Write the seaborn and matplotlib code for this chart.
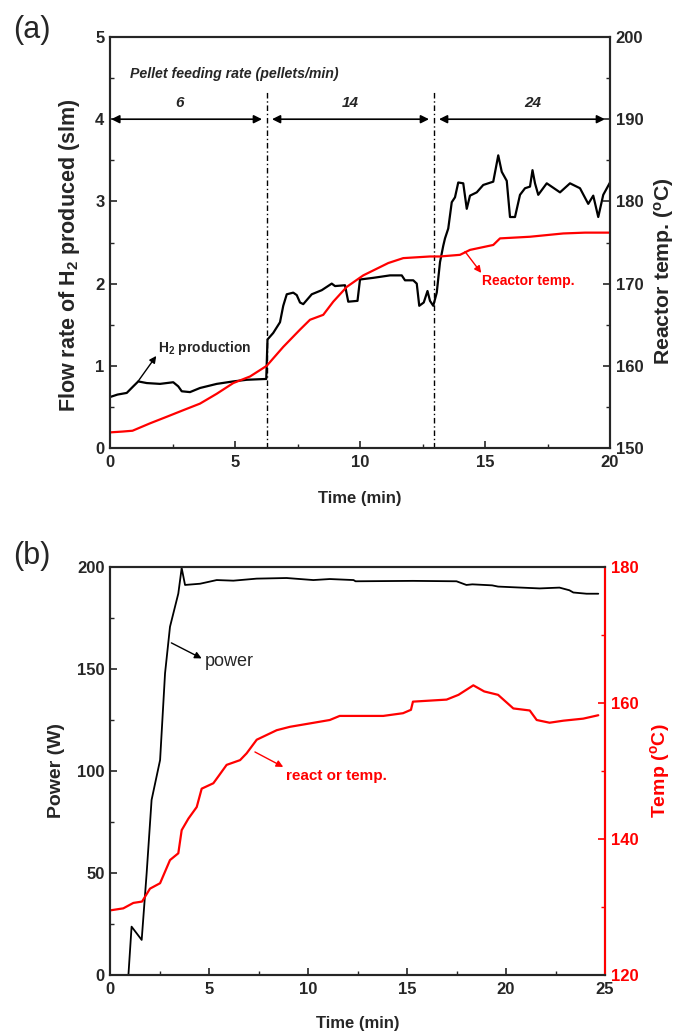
'''
Two-panel figure: H2 production vs pellet feeding rate (a) and
power / reactor temperature over time (b)
'''

import matplotlib
matplotlib.use('Agg')
import matplotlib.pyplot as plt
from matplotlib.ticker import MultipleLocator
import seaborn as sns
import pandas as pd

# ---- panel (a) data ----
t_h2 = [0, 0.3, 0.67, 0.93, 1.13, 1.47, 2.0, 2.53, 2.73, 2.87, 3.2, 3.6, 4.27,
        4.93, 5.47, 6.25, 6.3, 6.53, 6.8, 6.93, 7.07, 7.33, 7.47, 7.6, 7.73,
        8.07, 8.47, 8.87, 9.0, 9.4, 9.53, 9.9, 10.0, 10.53, 11.2, 11.67, 11.8,
        12.13, 12.27, 12.37, 12.55, 12.7, 12.8, 12.93, 13.07, 13.2, 13.33,
        13.4, 13.53, 13.67, 13.8, 13.93, 14.13, 14.27, 14.4, 14.67, 14.93,
        15.33, 15.53, 15.67, 15.87, 16.0, 16.2, 16.4, 16.6, 16.8, 16.9, 17.0,
        17.13, 17.47, 18.0, 18.4, 18.8, 19.13, 19.33, 19.53, 19.73, 20.0]
h2_flow = [0.62, 0.65, 0.67, 0.75, 0.81, 0.79, 0.78, 0.80, 0.75, 0.69, 0.68,
           0.73, 0.78, 0.81, 0.83, 0.84, 1.32, 1.40, 1.53, 1.73, 1.87, 1.89,
           1.86, 1.77, 1.75, 1.87, 1.92, 2.0, 1.97, 1.98, 1.78, 1.79, 2.05,
           2.07, 2.10, 2.10, 2.04, 2.04, 2.0, 1.73, 1.77, 1.91, 1.79, 1.73,
           1.89, 2.26, 2.46, 2.55, 2.67, 2.99, 3.05, 3.23, 3.22, 2.91, 3.07,
           3.11, 3.20, 3.24, 3.56, 3.36, 3.25, 2.81, 2.81, 3.08, 3.16, 3.18,
           3.38, 3.22, 3.08, 3.22, 3.11, 3.22, 3.16, 2.97, 3.07, 2.81, 3.08,
           3.23]

t_temp_a = [0, 0.5, 0.9, 1.6, 2.27, 2.93, 3.6, 4.27, 4.93, 5.6, 6.27, 6.93,
            7.6, 8.0, 8.53, 8.93, 9.47, 10.13, 11.13, 11.73, 12.8, 13.2, 14.0,
            14.4, 15.33, 15.6, 16.8, 18.13, 19.0, 20.0]
temp_a = [151.9, 152.0, 152.1, 153.0, 153.8, 154.6, 155.4, 156.6, 157.9,
          158.7, 160.0, 162.3, 164.4, 165.6, 166.2, 167.8, 169.6, 171.0,
          172.5, 173.1, 173.3, 173.3, 173.5, 174.1, 174.7, 175.5, 175.7,
          176.1, 176.2, 176.2]

feed_breaks = [0, 6.28, 12.96, 20]
feed_rates = ['6', '14', '24']
feed_label_x = [2.8, 9.6, 16.9]

# ---- panel (b) data ----
t_power = [0, 0.93, 1.09, 1.6, 1.85, 2.1, 2.53, 2.78, 3.03, 3.45, 3.54, 3.62,
           3.79, 4.55, 5.39, 6.23, 7.41, 8.92, 10.27, 11.1, 12.3, 12.4, 15.3,
           17.5, 18.0, 18.3, 19.3, 19.6, 21.7, 22.7, 23.2, 23.4, 24.07, 24.66]
power = [0, 0, 23.7, 17.2, 49.8, 85.8, 105.4, 147.9, 170.7, 187, 193.6,
         199.5, 191.2, 191.8, 193.6, 193.3, 194.3, 194.6, 193.6, 194.1, 193.6,
         193.0, 193.2, 193.0, 191.2, 191.5, 191.0, 190.4, 189.5, 189.9, 188.6,
         187.5, 186.9, 186.9]

t_temp_b = [0, 0.67, 1.18, 1.62, 2.02, 2.53, 3.03, 3.45, 3.62, 3.96, 4.38,
            4.63, 5.22, 5.47, 5.89, 6.57, 6.9, 7.41, 8.42, 9.09, 10.1, 11.1,
            11.6, 13.8, 14.8, 15.2, 15.3, 17.0, 17.6, 18.35, 18.9, 19.6,
            20.37, 21.2, 21.55, 22.2, 22.9, 23.9, 24.66]
temp_b = [129.5, 129.8, 130.6, 130.8, 132.7, 133.5, 136.9, 137.9, 141.3,
          143.0, 144.7, 147.4, 148.2, 149.2, 150.9, 151.6, 152.6, 154.6,
          156.0, 156.5, 157.0, 157.5, 158.1, 158.1, 158.5, 159.0, 160.2,
          160.5, 161.2, 162.6, 161.7, 161.2, 159.2, 158.9, 157.5, 157.1,
          157.4, 157.7, 158.2]

sns.set_theme(style='ticks')
plt.rcParams.update({
    'font.family': ['Liberation Sans', 'DejaVu Sans'],
    'font.weight': 'bold',
    'axes.labelweight': 'bold',
    'axes.linewidth': 1.5,
    'xtick.direction': 'in',
    'ytick.direction': 'in',
    'xtick.major.size': 5,
    'ytick.major.size': 5,
    'xtick.minor.size': 3,
    'ytick.minor.size': 3,
    'xtick.major.width': 1.2,
    'ytick.major.width': 1.2,
    'xtick.minor.width': 1.0,
    'ytick.minor.width': 1.0,
    'xtick.major.pad': 5,
    'ytick.major.pad': 4,
    'xtick.labelsize': 12,
    'ytick.labelsize': 12,
    'axes.labelsize': 12,
    'mathtext.fontset': 'custom',
    'mathtext.rm': 'Liberation Sans:bold',
    'mathtext.bf': 'Liberation Sans:bold',
    'mathtext.it': 'Liberation Sans:bold',
    'mathtext.default': 'bf',
})

RED = '#ff0000'
W, H = 679, 1034
fig = plt.figure(figsize=(W / 100, H / 100), dpi=100)

# ================= panel (a) =================
ax = fig.add_axes([110 / W, 1 - 448 / H, 500 / W, 411 / H])
ax2 = ax.twinx()

df_h2 = pd.DataFrame({'t': t_h2, 'v': h2_flow})
df_ta = pd.DataFrame({'t': t_temp_a, 'T': temp_a})
sns.lineplot(data=df_h2, x='t', y='v', ax=ax, color='black', lw=1.6,
             estimator=None, zorder=3)
sns.lineplot(data=df_ta, x='t', y='T', ax=ax2, color=RED, lw=1.6,
             estimator=None)

ax.set_xlim(0, 20)
ax.set_ylim(0, 5)
ax2.set_ylim(150, 200)
ax.xaxis.set_major_locator(MultipleLocator(5))
ax.xaxis.set_minor_locator(MultipleLocator(2.5))
ax.yaxis.set_major_locator(MultipleLocator(1))
ax.yaxis.set_minor_locator(MultipleLocator(0.5))
ax2.yaxis.set_major_locator(MultipleLocator(10))
ax2.yaxis.set_minor_locator(MultipleLocator(5))
ax.tick_params(which='both', top=False, right=False)

ax.set_xlabel('Time (min)', labelpad=15)
ax.set_ylabel('Flow rate of H$_2$ produced (slm)', fontsize=15.5)
ax.yaxis.set_label_coords(-0.056, 0.47)
ax2.set_ylabel('Reactor temp. ($^o$C)', fontsize=15.3)
ax2.yaxis.set_label_coords(1.083, 0.43)

# feeding-rate intervals
for xb in feed_breaks[1:-1]:
    ax.plot([xb, xb], [0, 4.33], color='black', lw=1.0,
            linestyle=(0, (4, 2, 1, 2)))
gap = 0.2
for i, lab in enumerate(feed_rates):
    x0 = feed_breaks[i] + (0.05 if i == 0 else gap)
    x1 = feed_breaks[i + 1] - gap
    ax.annotate('', xy=(x1, 4.0), xytext=(x0, 4.0),
                arrowprops=dict(arrowstyle='<|-|>', color='black', lw=1.2,
                                mutation_scale=12, shrinkA=0, shrinkB=0))
    ax.text(feed_label_x[i], 4.2, lab, ha='center', va='center',
            fontsize=11, style='italic')
ax.text(0.8, 4.55, 'Pellet feeding rate (pellets/min)', ha='left',
        va='center', fontsize=10.2, style='italic')

ax.annotate('', xy=(1.85, 1.12), xytext=(1.12, 0.81),
            arrowprops=dict(arrowstyle='-|>', color='black', lw=1.0,
                            mutation_scale=10, shrinkA=0, shrinkB=0))
ax.text(1.9, 1.22, 'H$_2$ production', fontsize=10, ha='left',
        va='center')

ax2.annotate('', xy=(14.85, 171.3), xytext=(14.2, 173.9),
             arrowprops=dict(arrowstyle='-|>', color=RED, lw=1.0,
                             mutation_scale=10, shrinkA=0, shrinkB=0))
ax2.text(14.9, 170.3, 'Reactor temp.', fontsize=10, color=RED, ha='left',
         va='center')

fig.text(13 / W, 1 - 30 / H, '(a)', fontsize=22, fontweight='normal',
         ha='left', va='center')

# ================= panel (b) =================
bx = fig.add_axes([110 / W, 1 - 975 / H, 495 / W, 408 / H])
bx2 = bx.twinx()

df_p = pd.DataFrame({'t': t_power, 'P': power})
df_tb = pd.DataFrame({'t': t_temp_b, 'T': temp_b})
sns.lineplot(data=df_p, x='t', y='P', ax=bx, color='black', lw=1.3,
             estimator=None, zorder=3)
sns.lineplot(data=df_tb, x='t', y='T', ax=bx2, color=RED, lw=1.6,
             estimator=None)

bx.set_xlim(0, 25)
bx.set_ylim(0, 200)
bx2.set_ylim(120, 180)
bx.xaxis.set_major_locator(MultipleLocator(5))
bx.xaxis.set_minor_locator(MultipleLocator(2.5))
bx.yaxis.set_major_locator(MultipleLocator(50))
bx.yaxis.set_minor_locator(MultipleLocator(25))
bx2.yaxis.set_major_locator(MultipleLocator(20))
bx2.yaxis.set_minor_locator(MultipleLocator(10))
bx.tick_params(which='both', top=False, right=False)
bx2.tick_params(axis='y', which='both', colors=RED)
bx2.spines['right'].set_color(RED)

bx.set_xlabel('Time (min)', labelpad=14)
bx.set_ylabel('Power (W)', fontsize=14)
bx.yaxis.set_label_coords(-0.091, 0.5)
bx2.set_ylabel('Temp ($^o$C)', color=RED, fontsize=14)
bx2.yaxis.set_label_coords(1.087, 0.5)

bx.annotate('', xy=(4.63, 155.2), xytext=(3.1, 162.8),
            arrowprops=dict(arrowstyle='-|>', color='black', lw=1.0,
                            mutation_scale=10, shrinkA=0, shrinkB=0))
bx.text(4.8, 153.5, 'power', fontsize=13, fontweight='normal', ha='left',
        va='center')
bx2.annotate('', xy=(8.75, 150.6), xytext=(7.32, 152.8),
             arrowprops=dict(arrowstyle='-|>', color=RED, lw=1.0,
                             mutation_scale=10, shrinkA=0, shrinkB=0))
bx2.text(8.9, 149.2, 'react or temp.', fontsize=11, color=RED, ha='left',
         va='center')

fig.text(13 / W, 1 - 556 / H, '(b)', fontsize=22, fontweight='normal',
         ha='left', va='center')

for a in (ax, ax2, bx, bx2):
    a.grid(False)

fig.savefig('out.png', dpi=100)
plt.close(fig)
